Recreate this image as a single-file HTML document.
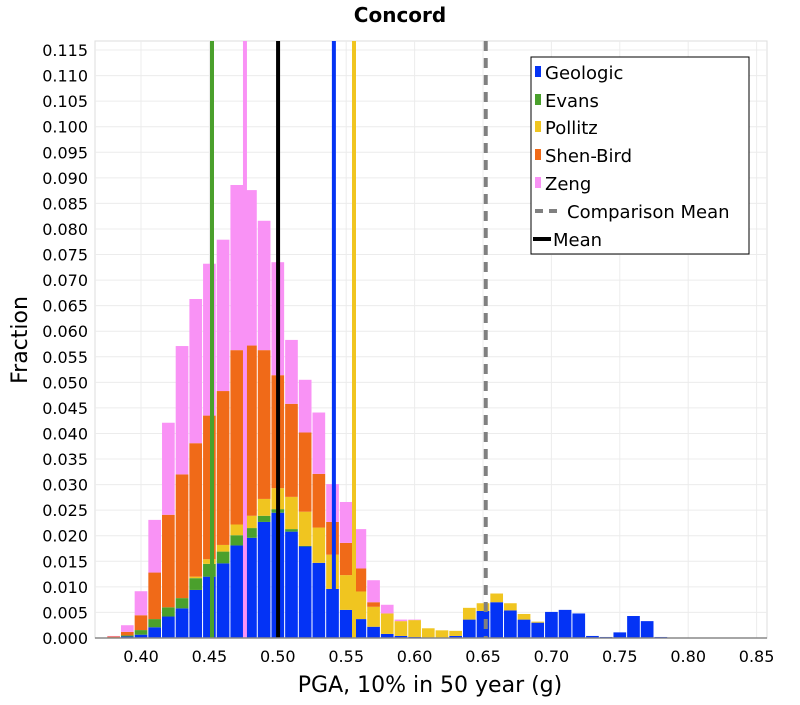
<!DOCTYPE html>
<html><head><meta charset="utf-8">
<style>
body{margin:0;background:#fff;}
svg text{font-family:"DejaVu Sans","Liberation Sans",sans-serif;}
</style></head>
<body>
<svg id="chart" width="800" height="700" xmlns="http://www.w3.org/2000/svg">
<text x="400" y="22" text-anchor="middle" font-size="20" font-weight="bold">Concord</text>
<g id="grid"></g>
<g id="bars"></g>
<g id="lines"></g>
<g id="axes"></g>
<text x="430" y="692" text-anchor="middle" font-size="22">PGA, 10% in 50 year (g)</text>
<text transform="translate(27,340) rotate(-90)" text-anchor="middle" font-size="22">Fraction</text>
<g id="legend"></g>
</svg>
<script>
const binCenters=[0.38,0.39,0.40,0.41,0.42,0.43,0.44,0.45,0.46,0.47,0.48,0.49,0.50,0.51,0.52,0.53,0.54,0.55,0.56,0.57,0.58,0.59,0.60,0.61,0.62,0.63,0.64,0.65,0.66,0.67,0.68,0.69,0.70,0.71,0.72,0.73,0.74,0.75,0.76,0.77,0.78];
const geologic=[.0001,.0003,.00065,.0021,.0042,.0058,.0094,.0120,.0146,.0181,.0196,.0227,.0245,.0208,.0179,.0147,.0096,.0055,.0037,.0022,.0008,.0004,.0002,0,0,.0004,.0036,.0053,.0070,.0054,.0036,.0030,.0051,.0055,.0048,.0004,.0002,.0011,.0043,.0033,.0002];
const evans=[0,.0002,.0009,.0016,.0018,.0020,.0023,.0025,.0023,.0020,.0019,.0012,.0007,.0005,.0001,0,0,0,0,0,0,0,0,0,0,0,0,0,0,0,0,0,0,0,0,0,0,0,0,0,0];
const pollitz=[0,0,0,0,0,0,.0003,.0009,.0013,.0021,.0024,.0033,.0041,.0063,.0067,.0069,.0067,.0068,.0054,.0039,.0040,.0029,.0033,.0019,.0015,.0010,.0023,.0015,.0017,.0014,.0011,.0002,0,0,0,0,0,0,0,0,0];
const shenBird=[.0002,.0007,.0029,.0091,.0181,.0242,.0261,.0281,.0301,.0341,.0333,.0291,.0221,.0182,.0155,.0105,.0064,.0063,.0045,.0009,0,0,0,0,0,0,0,0,0,0,0,0,0,0,0,0,0,0,0,0,0];
const zeng=[.0001,.0013,.0047,.0103,.0180,.0251,.0282,.0297,.0296,.0323,.0304,.0253,.0221,.0125,.0103,.0120,.0074,.0080,.0077,.0043,.0017,.0003,.0001,0,0,0,0,0,0,0,0,0,0,0,0,0,0,0,0,0,0];
const seriesNames=["Geologic","Evans","Pollitz","Shen-Bird","Zeng"];
const seriesColors=["#0433f5","#4aa02c","#f0c520","#f06a18","#f992f5"];
const meanValues=[0.4519,0.476,0.5002,0.541,0.5557,0.652];
const meanColors=["#4aa02c","#f992f5","#000","#0433f5","#f0c520","#808080"];
const meanNames=["evans-mean","zeng-mean","mean","geologic-mean","pollitz-mean","comparison-mean"];
const yTicks=[0,0.005,0.01,0.015,0.02,0.025,0.03,0.035,0.04,0.045,0.05,0.055,0.06,0.065,0.07,0.075,0.08,0.085,0.09,0.095,0.1,0.105,0.11,0.115];
const xTicks=[0.40,0.45,0.50,0.55,0.60,0.65,0.70,0.75,0.80,0.85];

const L=95,R=767,T=41,B=638;
const X=v=>141+(v-0.40)*1368;
const Y=v=>B-v*5113;
const NS="http://www.w3.org/2000/svg";
function mk(tag,attrs,parent){const e=document.createElementNS(NS,tag);for(const k in attrs)e.setAttribute(k,attrs[k]);parent.appendChild(e);return e;}
const grid=document.getElementById('grid'),bars=document.getElementById('bars'),lines=document.getElementById('lines'),axes=document.getElementById('axes'),legend=document.getElementById('legend');
mk('rect',{x:L,y:T,width:R-L,height:B-T,fill:'#fff',stroke:'#ddd'},grid);
yTicks.forEach(t=>{const l=mk('line',{x1:L,x2:R,y1:Y(t),y2:Y(t),stroke:'#ececec'},grid);

const tx=mk('text',{x:88,y:Y(t)+6,'text-anchor':'end','font-size':16},axes);tx.textContent=t.toFixed(3);
});
xTicks.forEach(t=>{const l=mk('line',{x1:X(t),x2:X(t),y1:T,y2:B,stroke:'#ececec'},grid);

const tx=mk('text',{x:X(t),y:662,'text-anchor':'middle','font-size':16},axes);tx.textContent=t.toFixed(2);
});
const series=[geologic,evans,pollitz,shenBird,zeng];
const bw=0.01*1368;
binCenters.forEach((c,i)=>{let cum=0;series.forEach((s,j)=>{const v=s[i];if(v<=0)return;
const y0=Y(cum),y1=Y(cum+v);cum+=v;
const r=mk('rect',{x:X(c)-bw/2+0.5,y:y1,width:bw-1,height:y0-y1,fill:seriesColors[j]},bars);
});});
meanValues.forEach((m,i)=>{const a={x1:X(m),x2:X(m),y1:T,y2:B,stroke:meanColors[i],'stroke-width':4};
if(i===5)a['stroke-dasharray']='10,7';const l=mk('line',a,lines);
});
mk('line',{x1:L,x2:R,y1:B,y2:B,stroke:'#888','stroke-width':1.5},axes);
// legend
const lb=mk('rect',{x:531,y:57,width:218,height:197,fill:'#fff',stroke:'#000','stroke-width':1},legend);
const ly=[72,100,127,155,183,211,239];
seriesNames.forEach((n,i)=>{mk('rect',{x:535,y:ly[i]-6,width:6,height:11,fill:seriesColors[i]},legend);
const t=mk('text',{x:545,y:ly[i]+7,'font-size':18},legend);t.textContent=n;
});
mk('line',{x1:535,x2:561,y1:ly[5],y2:ly[5],stroke:'#808080','stroke-width':4,'stroke-dasharray':'8,6'},legend);
const t5=mk('text',{x:567,y:ly[5]+7,'font-size':18},legend);t5.textContent='Comparison Mean';

mk('line',{x1:533,x2:551,y1:ly[6],y2:ly[6],stroke:'#000','stroke-width':4},legend);
const t6=mk('text',{x:553,y:ly[6]+7,'font-size':18},legend);t6.textContent='Mean';

</script>
</body></html>
